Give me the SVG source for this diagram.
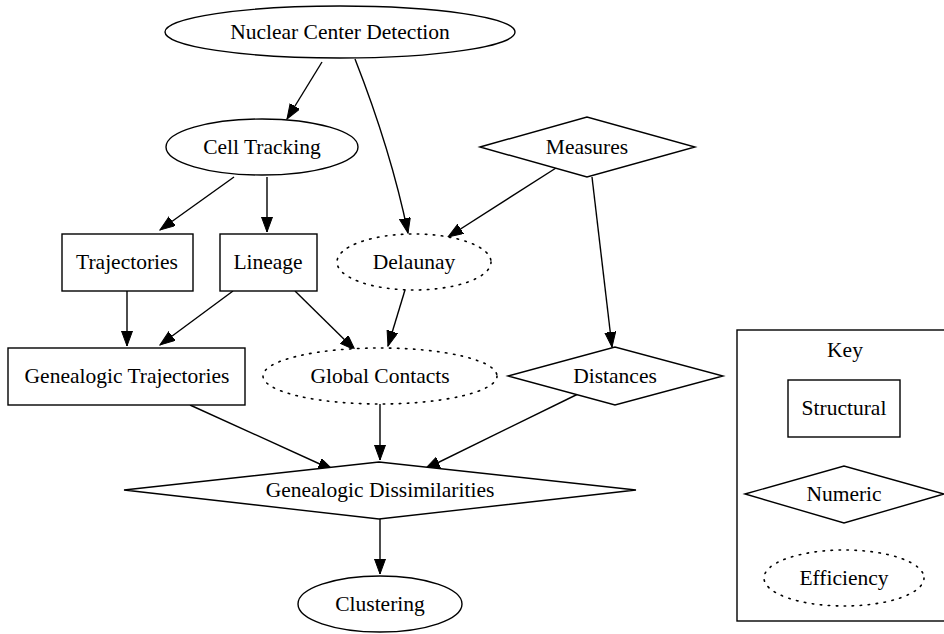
<svg xmlns="http://www.w3.org/2000/svg" width="944" height="634" viewBox="0 0 944 634">
<style>
.s{fill:#fff;stroke:#000;stroke-width:1.4}
.d{fill:#fff;stroke:#000;stroke-width:1.6;stroke-dasharray:1.5,6.5;stroke-linecap:round}
.t{font-family:"Liberation Serif","Times New Roman",serif;font-size:21.5px;fill:#000;text-anchor:middle;dominant-baseline:central}
.e{fill:none;stroke:#000;stroke-width:1.4;marker-end:url(#ah)}
</style>
<defs>
<marker id="ah" markerUnits="userSpaceOnUse" markerWidth="16" markerHeight="12" refX="15" refY="5.5" orient="auto">
<path d="M0,0 L15,5.5 L0,11 z" fill="#000" stroke="#000" stroke-width="1"/>
</marker>
</defs>
<rect width="944" height="634" fill="#fff"/>
<g id="connectors">
<path class="e" d="M322,62 L287,119"/>
<path class="e" d="M355,59 C375,110 395,170 408,233"/>
<path class="e" d="M234,177 L160,230"/>
<path class="e" d="M267,177 L267,232"/>
<path class="e" d="M556,168 L448,237"/>
<path class="e" d="M592,177 L612,347"/>
<path class="e" d="M127,291 L127,346"/>
<path class="e" d="M233,291 L160,345"/>
<path class="e" d="M295,291 L355,350"/>
<path class="e" d="M405,290 L388,346"/>
<path class="e" d="M190,405 L333,470"/>
<path class="e" d="M380,404 L380,460"/>
<path class="e" d="M578,394 L425,469"/>
<path class="e" d="M380,519 L380,574"/>
</g>
<g id="ncd"><ellipse class="s" cx="340" cy="32" rx="175" ry="26"/><text class="t" x="340" y="32">Nuclear Center Detection</text></g>
<g id="celltracking"><ellipse class="s" cx="262" cy="147" rx="96" ry="28"/><text class="t" x="262" y="147">Cell Tracking</text></g>
<g id="measures"><polygon class="s" points="480,147 587,117 695,147 587,177"/><text class="t" x="587" y="147">Measures</text></g>
<g id="trajectories"><rect class="s" x="62" y="234" width="131" height="57"/><text class="t" x="127" y="262">Trajectories</text></g>
<g id="lineage"><rect class="s" x="220" y="234" width="97" height="57"/><text class="t" x="268" y="262">Lineage</text></g>
<g id="delaunay"><ellipse class="d" cx="414" cy="262" rx="77" ry="28"/><text class="t" x="414" y="262">Delaunay</text></g>
<g id="gentraj"><rect class="s" x="8" y="348" width="237" height="57"/><text class="t" x="127" y="376">Genealogic Trajectories</text></g>
<g id="globalcontacts"><ellipse class="d" cx="380" cy="376" rx="117" ry="28"/><text class="t" x="380" y="376">Global Contacts</text></g>
<g id="distances"><polygon class="s" points="508,376 615,347 723,376 615,405"/><text class="t" x="615" y="376">Distances</text></g>
<g id="gendiss"><polygon class="s" points="124,490 379,462 636,490 379,519"/><text class="t" x="380" y="490">Genealogic Dissimilarities</text></g>
<g id="clustering"><ellipse class="s" cx="380" cy="604" rx="82" ry="28"/><text class="t" x="380" y="604">Clustering</text></g>
<g id="key">
<rect class="s" x="737" y="330" width="212" height="291"/>
<text class="t" x="845" y="350">Key</text>
<rect class="s" x="788" y="380" width="112" height="57"/><text class="t" x="844" y="408">Structural</text>
<polygon class="s" points="745,494 844,466 944,494 844,523"/><text class="t" x="844" y="494">Numeric</text>
<ellipse class="d" cx="844" cy="578" rx="80" ry="28"/><text class="t" x="844" y="578">Efficiency</text>
</g>
</svg>
